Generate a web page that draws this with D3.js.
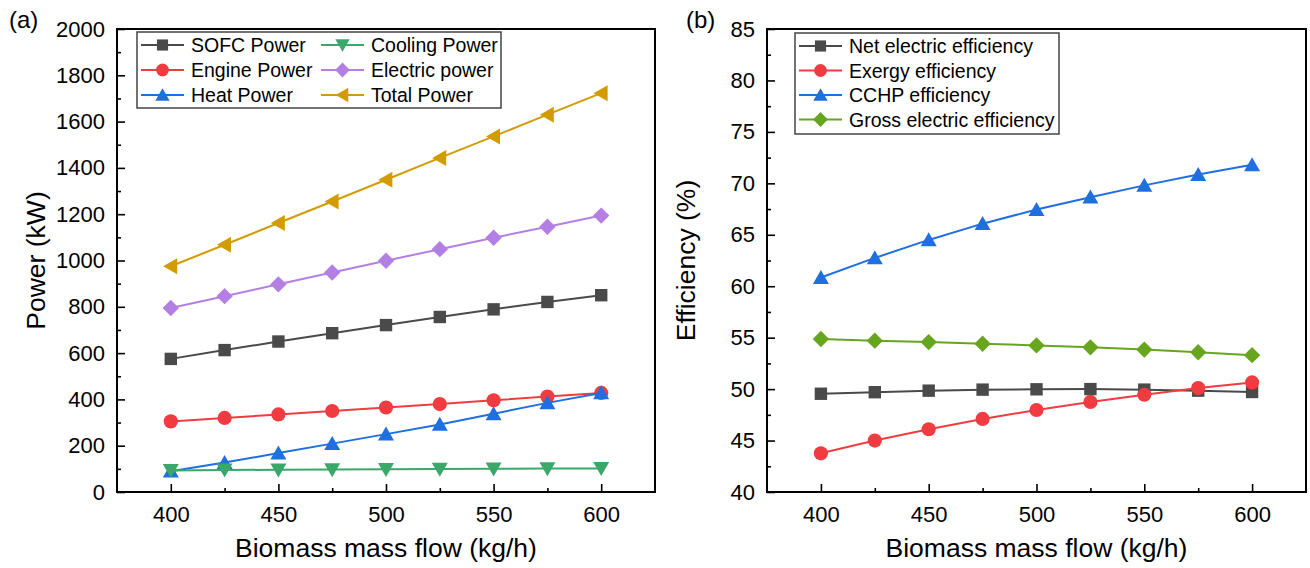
<!DOCTYPE html>
<html>
<head>
<meta charset="utf-8">
<script src="https://cdn.jsdelivr.net/npm/d3@7"></script>
<style>
  html, body { margin: 0; padding: 0; background: #fff; }
  svg { display: block; }
  text { font-family: "Liberation Sans", Arial, sans-serif; fill: #000; }
</style>
</head>
<body>
<svg id="chart" width="1310" height="568"></svg>
<script>
// Biomass mass flow (kg/h) shared by both panels
const flow = [400, 425, 450, 475, 500, 525, 550, 575, 600];
const xTicks = [400, 450, 500, 550, 600];
const xMinor = [425, 475, 525, 575];

// Panel (a): power outputs in kW
const sofcPower     = [575, 613, 650, 686, 721, 756, 789, 821, 850];
const enginePower   = [305, 320, 335, 350, 365, 380, 396, 412, 428];
const heatPower     = [90, 127, 168, 209, 250, 292, 338, 385, 428];
const coolingPower  = [93, 95, 96, 97, 98, 99, 100, 101, 102];
const electricPower = [795, 846, 897, 948, 999, 1049, 1098, 1146, 1194];
const totalPower    = [975, 1068, 1162, 1255, 1349, 1443, 1536, 1630, 1723];
const powerTicks = [0, 200, 400, 600, 800, 1000, 1200, 1400, 1600, 1800, 2000];
const powerMinor = [100, 300, 500, 700, 900, 1100, 1300, 1500, 1700, 1900];

// Panel (b): efficiencies in %
const netElecEff   = [49.55, 49.7, 49.85, 49.95, 49.98, 50.0, 49.95, 49.85, 49.72];
const exergyEff    = [43.76, 45.0, 46.1, 47.1, 47.97, 48.75, 49.45, 50.1, 50.65];
const cchpEff      = [60.85, 62.75, 64.5, 66.08, 67.45, 68.65, 69.8, 70.85, 71.8];
const grossElecEff = [54.87, 54.71, 54.57, 54.41, 54.25, 54.06, 53.84, 53.58, 53.3];
const effTicks = [40, 45, 50, 55, 60, 65, 70, 75, 80, 85];
const effMinor = [42.5, 47.5, 52.5, 57.5, 62.5, 67.5, 72.5, 77.5, 82.5];

const powerSeries = [
  { name: "SOFC Power",     values: sofcPower,     color: "#4a4a4a", shape: "square" },
  { name: "Engine Power",   values: enginePower,   color: "#f03c40", shape: "circle" },
  { name: "Heat Power",     values: heatPower,     color: "#1f6fe0", shape: "up" },
  { name: "Cooling Power",  values: coolingPower,  color: "#3aa86a", shape: "down" },
  { name: "Electric power", values: electricPower, color: "#b47fe2", shape: "diamond" },
  { name: "Total Power",    values: totalPower,    color: "#d29c00", shape: "left" }
];
const effSeries = [
  { name: "Net electric efficiency",   values: netElecEff,   color: "#4a4a4a", shape: "square" },
  { name: "Exergy efficiency",         values: exergyEff,    color: "#f03c40", shape: "circle" },
  { name: "CCHP efficiency",           values: cchpEff,      color: "#1f6fe0", shape: "up" },
  { name: "Gross electric efficiency", values: grossElecEff, color: "#67a51e", shape: "diamond" }
];

const svg = d3.select("#chart");

// Marker outlines, centred on (0,0)
function markerPath(shape) {
  switch (shape) {
    case "square":  return "M-6.2,-6.2H6.2V6.2H-6.2Z";
    case "circle":  return "M7.1,0A7.1,7.1 0 1,1 -7.1,0A7.1,7.1 0 1,1 7.1,0Z";
    case "up":      return "M0,-7.6L8,6.4L-8,6.4Z";
    case "down":    return "M0,7.6L8,-6.4L-8,-6.4Z";
    case "left":    return "M-7.6,0L6.4,-8L6.4,8Z";
    case "diamond": return "M0,-8.2L8.2,0L0,8.2L-8.2,0Z";
  }
}

function drawPanel(opt) {
  const { left, right, top, bottom, yDomain, yTicks, yMinor, series, yTitle, tag, legend } = opt;
  const x = d3.scaleLinear().domain([375, 625]).range([left, right]);
  const y = d3.scaleLinear().domain(yDomain).range([bottom, top]);
  const g = svg.append("g");

  // frame (top and right edges)
  g.append("path")
    .attr("d", `M${left},${top}H${right}V${bottom}`)
    .attr("fill", "none").attr("stroke", "#000").attr("stroke-width", 2);

  // bottom axis
  const xa = g.append("g").attr("transform", `translate(0,${bottom})`)
    .call(d3.axisBottom(x).tickValues(xTicks).tickSize(-8).tickPadding(14).tickFormat(d3.format("d")));
  g.append("g").attr("transform", `translate(0,${bottom})`)
    .call(d3.axisBottom(x).tickValues(xMinor).tickSize(-4).tickFormat(""))
    .call(s => s.select(".domain").remove());

  // left axis
  const ya = g.append("g").attr("transform", `translate(${left},0)`)
    .call(d3.axisLeft(y).tickValues(yTicks).tickSize(-8).tickPadding(12).tickFormat(d3.format("d")));
  g.append("g").attr("transform", `translate(${left},0)`)
    .call(d3.axisLeft(y).tickValues(yMinor).tickSize(-4).tickFormat(""))
    .call(s => s.select(".domain").remove());

  g.selectAll(".domain").attr("stroke-width", 2);
  xa.select(".domain").attr("d", `M${left - 1},0H${right + 1}`);
  ya.select(".domain").attr("d", `M0,${top - 1}V${bottom + 1}`);
  g.selectAll(".tick line").attr("stroke-width", 1.6);
  g.selectAll(".tick text").attr("font-size", 22).attr("font-family", "Liberation Sans, Arial, sans-serif");

  // axis titles
  g.append("text")
    .attr("x", (left + right) / 2).attr("y", 557)
    .attr("text-anchor", "middle").attr("font-size", 26.5)
    .text("Biomass mass flow (kg/h)");
  g.append("text")
    .attr("transform", `translate(${left - 72},${(top + bottom) / 2}) rotate(-90)`)
    .attr("text-anchor", "middle").attr("font-size", 26.5)
    .text(yTitle);
  g.append("text")
    .attr("x", tag.x).attr("y", 28).attr("font-size", 24)
    .text(tag.text);

  // series lines and markers
  const line = d3.line().x((d, i) => x(flow[i])).y(d => y(d));
  series.forEach(s => {
    g.append("path").datum(s.values)
      .attr("d", line).attr("fill", "none")
      .attr("stroke", s.color).attr("stroke-width", 2);
    g.selectAll(null).data(s.values).enter().append("path")
      .attr("d", markerPath(s.shape))
      .attr("transform", (d, i) => `translate(${x(flow[i])},${y(d)})`)
      .attr("fill", s.color);
  });

  // legend
  const lg = g.append("g");
  lg.append("rect")
    .attr("x", legend.x).attr("y", legend.y)
    .attr("width", legend.w).attr("height", legend.h)
    .attr("fill", "#fff").attr("stroke", "#444").attr("stroke-width", 1.5);
  series.forEach((s, i) => {
    const col = Math.floor(i / legend.rows), row = i % legend.rows;
    const lx = legend.x + 4 + col * legend.colW;
    const ly = legend.y + 13 + row * legend.rowH;
    lg.append("line")
      .attr("x1", lx).attr("x2", lx + 43).attr("y1", ly).attr("y2", ly)
      .attr("stroke", s.color).attr("stroke-width", 2);
    lg.append("path").attr("d", markerPath(s.shape))
      .attr("transform", `translate(${lx + 21.5},${ly}) scale(0.9)`).attr("fill", s.color);
    lg.append("text")
      .attr("x", lx + 50).attr("y", ly + 7)
      .attr("font-size", 19.5).text(s.name);
  });
}

drawPanel({
  left: 117, right: 655, top: 29, bottom: 492,
  yDomain: [0, 2000], yTicks: powerTicks, yMinor: powerMinor,
  series: powerSeries, yTitle: "Power (kW)", tag: { x: 9, text: "(a)" },
  legend: { x: 137, y: 32, w: 364, h: 76, rows: 3, rowH: 25, colW: 180 }
});

drawPanel({
  left: 767, right: 1306, top: 29, bottom: 492,
  yDomain: [40, 85], yTicks: effTicks, yMinor: effMinor,
  series: effSeries, yTitle: "Efficiency (%)", tag: { x: 686, text: "(b)" },
  legend: { x: 795, y: 33, w: 264, h: 101, rows: 4, rowH: 24.5, colW: 0 }
});
</script>
</body>
</html>
